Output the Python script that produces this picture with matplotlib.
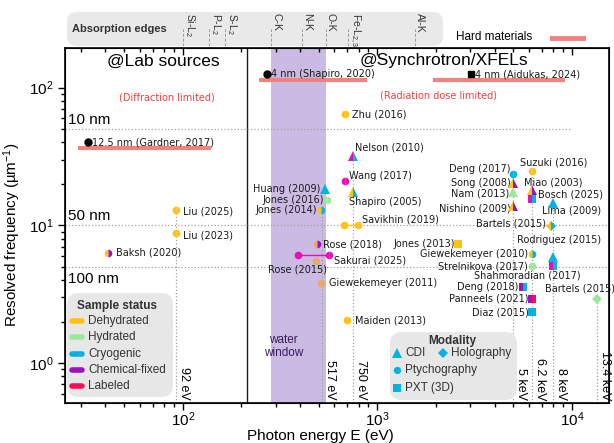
import matplotlib
matplotlib.use('Agg')
import matplotlib.pyplot as plt
from matplotlib.patches import FancyBboxPatch
from matplotlib.lines import Line2D

plt.rcParams['font.family'] = ['Liberation Sans', 'DejaVu Sans']
plt.rcParams['mathtext.fontset'] = 'custom'
plt.rcParams['mathtext.rm'] = 'Liberation Sans'
plt.rcParams['mathtext.it'] = 'Liberation Sans:italic'

W, H = 614, 443

# sample status colours
DEHY = '#ffc20e'
HYD = '#9be79b'
CRYO = '#00b3e3'
CHEM = '#9b12c4'
LAB = '#ff0a58'
MAG = '#e40fb6'
TAN = '#e9a964'
HARD = '#f4827c'

status_names = ['Dehydrated', 'Hydrated', 'Cryogenic', 'Chemical-fixed', 'Labeled']
status_colors = [DEHY, HYD, CRYO, CHEM, LAB]

# ---- published results ----
refs = ['Zhu (2016)', 'Nelson (2010)', 'Wang (2017)', 'Huang (2009)', 'Shapiro (2005)',
        'Jones (2016)', 'Jones (2014)', 'Savikhin (2019)', 'Rose (2018)', 'Sakurai (2025)',
        'Rose (2015)', 'Giewekemeyer (2011)', 'Maiden (2013)', 'Liu (2025)', 'Liu (2023)',
        'Baksh (2020)', 'Deng (2017)', 'Suzuki (2016)', 'Song (2008)', 'Miao (2003)',
        'Nam (2013)', 'Bosch (2025)', 'Lima (2009)', 'Nishino (2009)', 'Bartels (2015)',
        'Jones (2013)', 'Rodriguez (2015)', 'Giewekemeyer (2010)', 'Strelnikova (2017)',
        'Shahmoradian (2017)', 'Deng (2018)', 'Bartels (2015)', 'Panneels (2021)', 'Diaz (2015)']
energy = [679, 750, 679, 535, 750,
          548, 516, 791, 488, 562,
          482, 513, 700, 92, 92,
          41.1, 5000, 6200, 5000, 6200,
          5000, 6200, 8000, 5000, 7800,
          2610, 8000, 6200, 6200,
          8000, 5600, 13400, 6200, 6200]
freq = [64.2, 31.8, 20.9, 18.2, 17.5,
        15.2, 13.0, 10.1, 7.28, 6.05,
        5.5, 3.81, 2.04, 13.0, 8.8,
        6.3, 23.6, 24.6, 20.2, 18.0,
        17.5, 15.4, 14.6, 13.7, 9.95,
        7.36, 5.88, 6.22, 5.06,
        5.06, 3.56, 2.93, 2.93, 2.34]
modality = ['Ptychography', 'CDI', 'Ptychography', 'CDI', 'CDI',
            'Ptychography', 'Ptychography', 'Ptychography', 'Ptychography', 'Ptychography',
            'Ptychography', 'Ptychography', 'Ptychography', 'Ptychography', 'Ptychography',
            'Ptychography', 'Ptychography', 'Ptychography', 'CDI', 'CDI',
            'CDI', 'PXT', 'CDI', 'CDI', 'Holography',
            'PXT', 'CDI', 'Ptychography', 'Ptychography',
            'PXT', 'PXT', 'Holography', 'PXT', 'PXT']
# left / right half colours of each marker
col_left = [DEHY, MAG, MAG, CRYO, DEHY,
            HYD, DEHY, DEHY, TAN, MAG,
            TAN, TAN, DEHY, DEHY, DEHY,
            DEHY, CRYO, DEHY, DEHY, DEHY,
            HYD, MAG, CRYO, DEHY, DEHY,
            DEHY, CRYO, DEHY, HYD,
            MAG, CHEM, HYD, CHEM, CRYO]
col_right = [DEHY, CRYO, MAG, CRYO, CRYO,
             HYD, CRYO, DEHY, CHEM, MAG,
             TAN, TAN, DEHY, DEHY, DEHY,
             CHEM, CRYO, DEHY, CHEM, CHEM,
             HYD, CRYO, CRYO, CHEM, CRYO,
             DEHY, CRYO, CRYO, HYD,
             CRYO, CRYO, HYD, LAB, CRYO]

# results measured over an energy range (second end point)
pair_refs = ['Savikhin (2019)', 'Sakurai (2025)']
pair_energy = [670, 391]

# label offsets in pixels and alignment
label_pos = [(7, 0, 'left'), (2, 9, 'left'), (4, 5, 'left'), (-4, 0, 'right'), (-4, -10, 'left'),
             (-3, 0, 'right'), (-5, 0, 'right'), (4, 5, 'left'), (6, 0, 'left'), (5, -5, 'left'),
             (-18, -8, 'center'), (8, 0, 'left'), (8, 0, 'left'), (7, -2, 'left'), (7, -3, 'left'),
             (8, 0, 'left'), (-3, 5, 'right'), (-12, 9, 'left'), (-3, 0, 'right'), (-8, 8, 'left'),
             (-4, -2, 'right'), (6, 5, 'left'), (-11, -8, 'left'), (-3, -2, 'right'), (-5, 2, 'right'),
             (-3, 0, 'right'), (-36, 17, 'left'), (-3, 0, 'right'), (-4, 0, 'right'),
             (-26, -9, 'center'), (-5, 0, 'right'), (-52, 10, 'left'), (-3, 0, 'right'), (-3, 0, 'right')]

# hard materials
hard_labels = ['12.5 nm (Gardner, 2017)', '4 nm (Shapiro, 2020)', '4 nm (Aidukas, 2024)']
hard_res_nm = [12.5, 4.0, 4.0]
hard_energy = [32.4, 272, 3020]
hard_e_lo = [28.8, 245, 1928]
hard_e_hi = [140, 881, 9226]
hard_mod = ['Ptychography', 'Ptychography', 'PXT']

# reference energies
vline_energy = [92, 517, 750, 5000, 6200, 8000, 13400]
vline_top = [13.0, 13.0, 31.8, 23.6, 24.6, 14.6, 2.93]
vline_text = ['92 eV', '517 eV', '750 eV', '5 keV', '6.2 keV', '8 keV', '13.4 keV']

# absorption edges
edge_names = ['Si-L$_2$', 'P-L$_2$', 'S-L$_2$', 'C-K', 'N-K', 'O-K', 'Fe-L$_{2,3}$', 'Al-K']
edge_energy = [100, 136, 165, 284, 410, 543, 710, 1560]

# resolution guide lines (half-pitch)
res_nm = [10, 50, 100]
res_text = ['10 nm', '50 nm', '100 nm']

water_window = (284, 543)
lab_limit = 214

markers = {'CDI': '^', 'Ptychography': 'o', 'PXT': 's', 'Holography': 'D'}
msize = {'^': 7.5, 'o': 5.5, 's': 6, 'D': 5.5}


def fx(px):
    return px / W


def fy(py):
    return 1 - py / H


def rounded_box(x0, y0, x1, y1, r=10, fc='#e7e7e7'):
    p = FancyBboxPatch((fx(x0), fy(y1)), fx(x1) - fx(x0), fy(y0) - fy(y1),
                       boxstyle='round,pad=0,rounding_size=%f' % (r / W),
                       mutation_aspect=W / H, transform=fig.transFigure,
                       fc=fc, ec='none', zorder=2)
    fig.add_artist(p)


fig = plt.figure(figsize=(6.14, 4.43), dpi=100)
ax = fig.add_axes([fx(65), fy(403), fx(609) - fx(65), fy(48) - fy(403)])
ax.set_xscale('log')
ax.set_yscale('log')
ax.set_xlim(24.8, 15500)
ax.set_ylim(0.512, 194)

ax.axvspan(*water_window, color='#cbbbe4', lw=0, zorder=0)
ax.axvline(lab_limit, color='#1a1a1a', lw=1.0, zorder=1)
ax.text(330, 1.32, 'water\nwindow', color='#3a1d5a', fontsize=8.5, ha='center', va='center',
        linespacing=1.1)

# resolution guide lines
for r, t in zip(res_nm, res_text):
    f = 1000 / (2 * r)
    xmax = 1e4 if r == 10 else ax.get_xlim()[1]
    ax.hlines(f, ax.get_xlim()[0], xmax, colors='#a0a0a0', linestyles=':', lw=0.9, zorder=1)
    dy, va = (-5, 'top') if r == 100 else (2, 'bottom')
    ax.annotate(t, xy=(0.006, f), xycoords=ax.get_yaxis_transform(), xytext=(0, dy),
                textcoords='offset pixels', fontsize=11, va=va, ha='left')

# reference energy lines
for e, top, t in zip(vline_energy, vline_top, vline_text):
    ax.vlines(e, ax.get_ylim()[0], top, colors='#a0a0a0', linestyles=':', lw=0.9, zorder=1)
    ax.annotate(t, xy=(e, ax.get_ylim()[0]), xytext=(2, 3), textcoords='offset pixels',
                rotation=270, fontsize=9, ha='left', va='bottom')

# range results
for name, e2 in zip(pair_refs, pair_energy):
    i = refs.index(name)
    ax.plot([e2, energy[i]], [freq[i], freq[i]], color=col_left[i], lw=1.0, zorder=3)
    ax.plot(e2, freq[i], 'o', ms=5.5, mfc=col_left[i], mew=0, zorder=4)

ann_font = dict(family='DejaVu Sans', size=7, color='#1a1a1a')
for i, name in enumerate(refs):
    m = markers[modality[i]]
    ax.plot(energy[i], freq[i], marker=m, ms=msize[m], ls='none', fillstyle='left',
            mfc=col_left[i], mfcalt=col_right[i], mew=0, zorder=5)
    dx, dy, ha = label_pos[i]
    ax.annotate(name, xy=(energy[i], freq[i]), xytext=(dx, dy), textcoords='offset pixels',
                ha=ha, va='center', annotation_clip=False, **ann_font)

# hard materials
for lab, r, e, lo, hi, mod in zip(hard_labels, hard_res_nm, hard_energy, hard_e_lo, hard_e_hi, hard_mod):
    f = 1000 / (2 * r)
    ax.plot([lo, hi], [f / 1.105, f / 1.105], color=HARD, lw=3, solid_capstyle='butt', zorder=3)
    m = markers[mod]
    ax.plot(e, f, marker=m, ms=5, color='black', ls='none', zorder=5)
    ax.annotate(lab, xy=(e, f), xytext=(4, 0), textcoords='offset pixels', ha='left',
                va='center', **ann_font)

ax.set_xlabel('Photon energy E (eV)', fontsize=11)
ax.set_ylabel('Resolved frequency (µm$^{-1}$)', fontsize=11)
ax.xaxis.set_label_coords(0.469, -0.073)
ax.yaxis.set_label_coords(-0.077, 0.473)
ax.tick_params(which='both', direction='out', labelsize=11, width=1)
ax.tick_params(axis='x', pad=0)
ax.tick_params(which='major', length=5)
ax.tick_params(which='minor', length=3)
for s in ax.spines.values():
    s.set_linewidth(1.2)

ax_t = ax.twiny()
ax_t.set_xscale('log')
ax_t.set_xlim(ax.get_xlim())
ax_t.tick_params(axis='x', which='both', direction='in', labeltop=False, width=1)
ax_t.tick_params(which='major', length=5)
ax_t.tick_params(which='minor', length=3)

# headings
fig.text(fx(163), fy(61), '@Lab sources', fontsize=12.5, ha='center', va='center')
fig.text(fx(444), fy(61), '@Synchrotron/XFELs', fontsize=12.5, ha='center', va='center')
fig.text(fx(167), fy(97), '(Diffraction limited)', fontsize=7, color='#ff3b3b', ha='center',
         va='center', family='DejaVu Sans')
fig.text(fx(438), fy(96), '(Radiation dose limited)', fontsize=7, color='#ff3b3b', ha='center',
         va='center', family='DejaVu Sans')

# absorption edges strip
rounded_box(67, 12, 443, 46, r=10, fc='#e9e9e9')
ax_e = fig.add_axes([fx(65), fy(46), fx(609) - fx(65), fy(12) - fy(46)])
ax_e.set_xscale('log')
ax_e.set_xlim(ax.get_xlim())
ax_e.set_ylim(0, 1)
ax_e.axis('off')
ax_e.set_zorder(3)
for n, e in zip(edge_names, edge_energy):
    ax_e.vlines(e, 0, 0.5, colors='#9a9a9a', linestyles=(0, (3, 2)), lw=0.7)
    ax_e.text(e, 0.96, n, rotation=270, fontsize=7.5, ha='left', va='top', color='#333333')
fig.text(fx(72), fy(29), 'Absorption edges', fontsize=8, fontweight='bold', va='center',
         color='#333333', zorder=4)

fig.text(fx(456), fy(37), 'Hard materials', fontsize=8.5, va='center')
fig.add_artist(Line2D([fx(552), fx(583)], [fy(38), fy(38)], color=HARD, lw=3.5,
                      transform=fig.transFigure))

# sample status legend
rounded_box(67, 293, 173, 397, r=12)
fig.text(fx(117), fy(306), 'Sample status', fontsize=8.5, fontweight='bold', ha='center',
         va='center', color='#333333', zorder=4)
for k, (n, c) in enumerate(zip(status_names, status_colors)):
    y = 321 + k * 16.3
    fig.add_artist(Line2D([fx(72), fx(82)], [fy(y), fy(y)], color=c, lw=4,
                          solid_capstyle='round', transform=fig.transFigure, zorder=4))
    fig.text(fx(88), fy(y), n, fontsize=8.5, va='center', color='#333333', zorder=4)

# modality legend
rounded_box(390, 332, 517, 400, r=12)
fig.text(fx(452), fy(341), 'Modality', fontsize=8.5, fontweight='bold', ha='center',
         va='center', color='#333333', zorder=4)
mod_items = [('CDI', 397, 353), ('Holography', 443, 353), ('Ptychography', 397, 370),
             ('PXT (3D)', 397, 388)]
for n, x, y in mod_items:
    key = 'PXT' if n.startswith('PXT') else n
    m = markers[key]
    fig.add_artist(Line2D([fx(x)], [fy(y)], marker=m, ms=msize[m] * 0.95, color=CRYO, mew=0,
                          ls='none', transform=fig.transFigure, zorder=4))
    fig.text(fx(x + 8), fy(y), n, fontsize=8.5, va='center', color='#333333', zorder=4)

fig.savefig('out.png', dpi=100)
